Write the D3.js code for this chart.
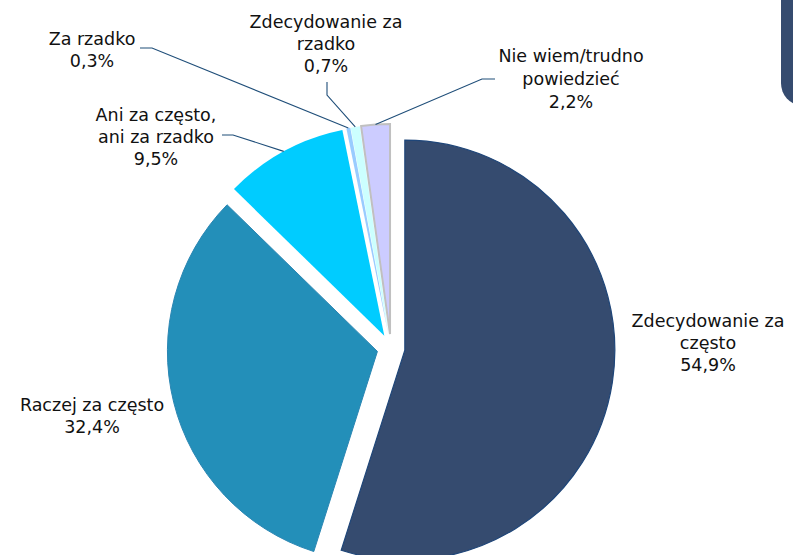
<!DOCTYPE html>
<html>
<head>
<meta charset="utf-8">
<script src="https://cdn.jsdelivr.net/npm/d3@7"></script>
<style>
  html, body { margin: 0; padding: 0; background: #fff; }
  svg { display: block; }
  text { font-family: "DejaVu Sans", Verdana, sans-serif; font-size: 17.5px; fill: #111; }
</style>
</head>
<body>
<svg id="chart" width="793" height="555"></svg>
<script>
// ---- data ----
const categories = [
  "Zdecydowanie za często",
  "Raczej za często",
  "Ani za często, ani za rzadko",
  "Za rzadko",
  "Zdecydowanie za rzadko",
  "Nie wiem/trudno powiedzieć"
];
const values = [54.9, 32.4, 9.5, 0.3, 0.7, 2.2];
const labelLines = [
  ["Zdecydowanie za", "często", "54,9%"],
  ["Raczej za często", "32,4%"],
  ["Ani za często,", "ani za rzadko", "9,5%"],
  ["Za rzadko", "0,3%"],
  ["Zdecydowanie za", "rzadko", "0,7%"],
  ["Nie wiem/trudno", "powiedzieć", "2,2%"]
];

// ---- styles / layout ----
const colors = ["#354b6f", "#238fb9", "#00ccff", "#99ccff", "#ccffff", "#ccccff"];
const strokes = ["#1f4679", "#2a86b3", "#00c4f5", "#99ccff", "#ccffff", "#c0c0c0"];
const strokeW = [1.2, 1, 0, 0, 0, 2];
// label anchor (center x, first baseline y, line spacing) and leader elbow
const labelLayout = [
  { x: 708, y: 327, dy: 22, leader: null },
  { x: 92, y: 411, dy: 22, leader: null },
  { x: 156, y: 121, dy: 22, leader: [[222, 135], [233, 135]] },
  { x: 92, y: 45, dy: 22, leader: [[140, 48], [152, 48]] },
  { x: 326, y: 28, dy: 22, leader: [[327, 82], [327, 95]] },
  { x: 571, y: 62, dy: 23, leader: [[495, 79], [482, 79]] }
];

const cx = 391, cy = 348, R = 210, explode = 14;

const svg = d3.select("#chart");

// partial decorative shape at top-right edge
svg.append("rect")
  .attr("x", 781).attr("y", -30).attr("width", 40).attr("height", 135)
  .attr("rx", 22).attr("fill", "#354b6f");

const pie = d3.pie().sort(null).value(d => d).startAngle(0).endAngle(2 * Math.PI);
const arcs = pie(values);
const arcGen = d3.arc().innerRadius(0).outerRadius(R);

const g = svg.append("g").attr("transform", `translate(${cx},${cy})`);

function offsetOf(a) {
  const m = (a.startAngle + a.endAngle) / 2;
  return [Math.sin(m) * explode, -Math.cos(m) * explode];
}

g.selectAll("path.slice")
  .data(arcs)
  .join("path")
  .attr("class", "slice")
  .attr("d", arcGen)
  .attr("transform", d => { const o = offsetOf(d); return `translate(${o[0]},${o[1]})`; })
  .attr("fill", (d, i) => colors[i])
  .attr("stroke", (d, i) => strokes[i])
  .attr("stroke-width", (d, i) => strokeW[i])
  .attr("stroke-linejoin", "miter");

// leader lines
arcs.forEach((a, i) => {
  const L = labelLayout[i];
  if (!L.leader) return;
  const m = (a.startAngle + a.endAngle) / 2;
  const o = offsetOf(a);
  const end = [cx + Math.sin(m) * R + o[0], cy - Math.cos(m) * R + o[1]];
  const pts = L.leader.concat([end]);
  svg.append("path")
    .attr("d", d3.line()(pts))
    .attr("fill", "none")
    .attr("stroke", "#1f4e79")
    .attr("stroke-width", 1.1);
});

// labels
labelLines.forEach((lines, i) => {
  const L = labelLayout[i];
  const t = svg.append("text").attr("text-anchor", "middle");
  lines.forEach((s, k) => {
    t.append("tspan").attr("x", L.x).attr("y", L.y + k * L.dy).text(s);
  });
});
</script>
</body>
</html>
